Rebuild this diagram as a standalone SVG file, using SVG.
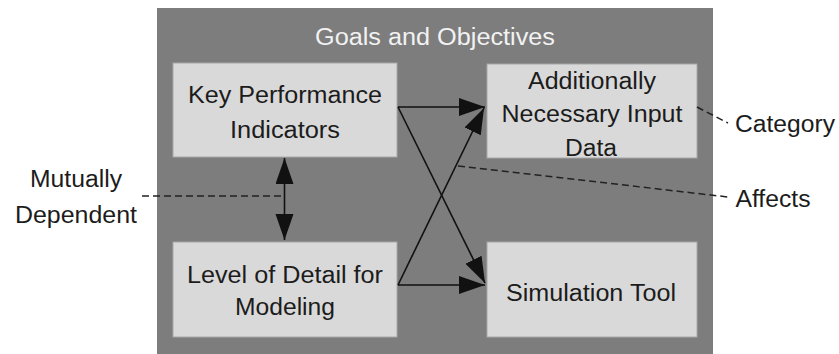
<svg xmlns="http://www.w3.org/2000/svg" width="839" height="354" viewBox="0 0 839 354">
<style>
text{font-family:"Liberation Sans",Arial,sans-serif;font-size:23px;fill:#1c1c1c;text-anchor:middle}
.title{fill:#f2f2f2}
.box{fill:#d9d9d9;stroke:#a8a8a8;stroke-width:1}
.arr{stroke:#111;stroke-width:1.6;fill:none}
.dash{stroke:#222;stroke-width:1.5;fill:none;stroke-dasharray:7 4}
</style>
<defs>
<marker id="ah" markerUnits="userSpaceOnUse" markerWidth="27" markerHeight="19" refX="26" refY="9" orient="auto-start-reverse" viewBox="0 0 27 19">
<path d="M0,0 L26,9 L0,18 z" fill="#111"/>
</marker>
</defs>
<rect width="839" height="354" fill="#ffffff"/>
<g id="container">
<rect x="157" y="8" width="556" height="346" fill="#7d7d7d"/>
<text class="title" x="435" y="45" textLength="240" lengthAdjust="spacingAndGlyphs">Goals and Objectives</text>
</g>
<g id="kpi">
<rect class="box" x="173" y="63" width="224" height="94"/>
<text x="285" y="103" textLength="194" lengthAdjust="spacingAndGlyphs">Key Performance</text>
<text x="285" y="138" textLength="110" lengthAdjust="spacingAndGlyphs">Indicators</text>
</g>
<g id="input">
<rect class="box" x="487" y="64" width="210" height="94"/>
<text x="592" y="89" textLength="128" lengthAdjust="spacingAndGlyphs">Additionally</text>
<text x="592" y="122" textLength="181" lengthAdjust="spacingAndGlyphs">Necessary Input</text>
<text x="591" y="156" textLength="52" lengthAdjust="spacingAndGlyphs">Data</text>
</g>
<g id="detail">
<rect class="box" x="173" y="242" width="224" height="95"/>
<text x="285" y="283" textLength="196" lengthAdjust="spacingAndGlyphs">Level of Detail for</text>
<text x="285" y="315" textLength="100" lengthAdjust="spacingAndGlyphs">Modeling</text>
</g>
<g id="sim">
<rect class="box" x="487" y="242" width="210" height="95"/>
<text x="591" y="301" textLength="170" lengthAdjust="spacingAndGlyphs">Simulation Tool</text>
</g>
<g id="labels">
<text x="76" y="187" textLength="92" lengthAdjust="spacingAndGlyphs">Mutually</text>
<text x="76" y="223" textLength="122" lengthAdjust="spacingAndGlyphs">Dependent</text>
<text x="785" y="132" textLength="100" lengthAdjust="spacingAndGlyphs">Category</text>
<text x="773" y="207" textLength="75" lengthAdjust="spacingAndGlyphs">Affects</text>
</g>
<g id="connectors">
<line class="arr" x1="398" y1="107" x2="485" y2="107" marker-end="url(#ah)"/>
<line class="arr" x1="398" y1="107" x2="485" y2="283" marker-end="url(#ah)"/>
<line class="arr" x1="398" y1="285" x2="484" y2="108" marker-end="url(#ah)"/>
<line class="arr" x1="398" y1="285" x2="485" y2="285" marker-end="url(#ah)"/>
<line class="arr" x1="284.5" y1="158" x2="284.5" y2="240" marker-start="url(#ah)" marker-end="url(#ah)"/>
<line class="dash" x1="142" y1="196" x2="283" y2="196"/>
<line class="dash" x1="458" y1="166" x2="728" y2="197"/>
<line class="dash" x1="697" y1="107" x2="728" y2="123"/>
</g>
</svg>
